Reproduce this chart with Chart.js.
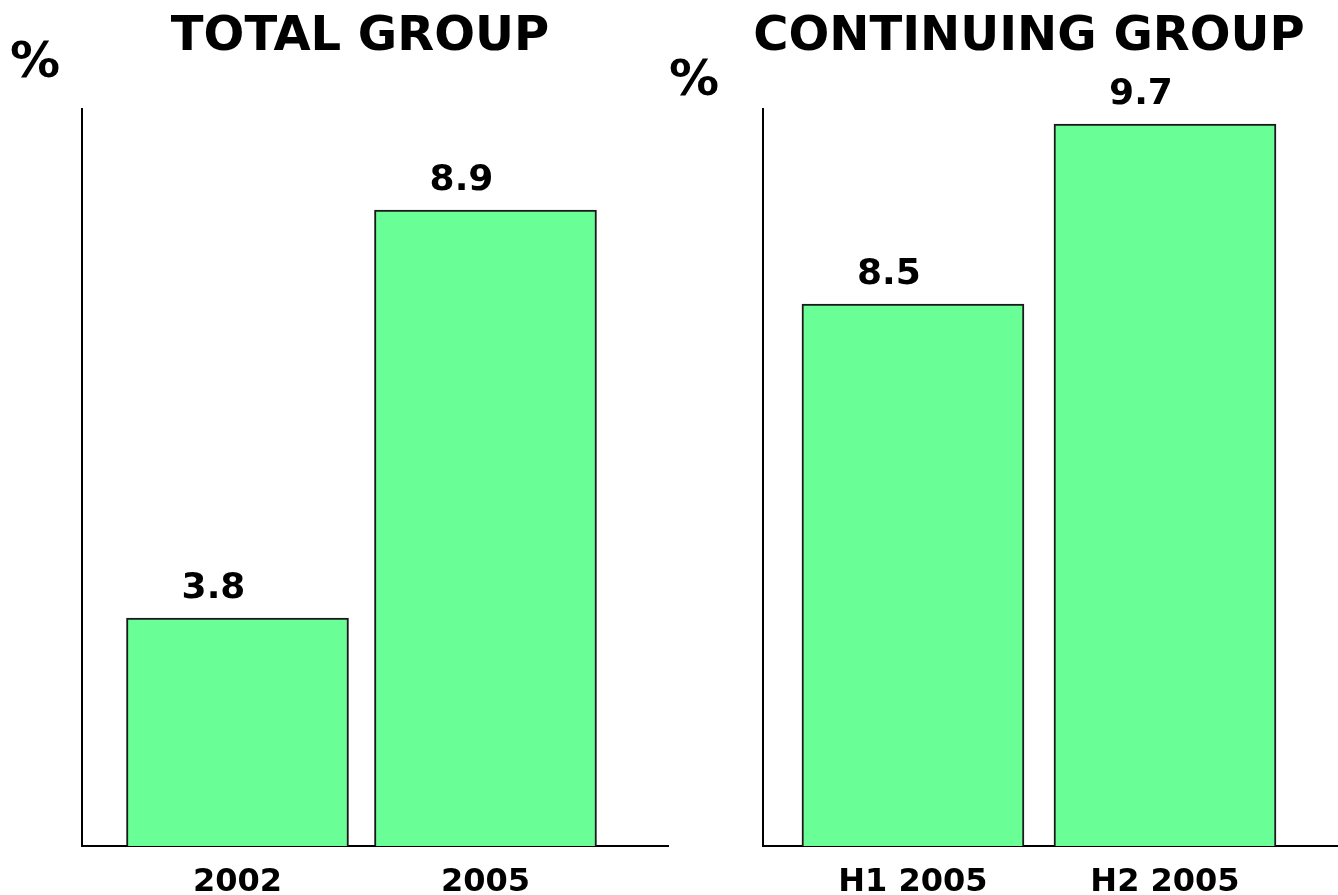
<!DOCTYPE html>
<html>
<head>
<meta charset="utf-8">
<script src="https://cdn.jsdelivr.net/npm/chart.js@4/dist/chart.umd.min.js"></script>
<style>
  body { margin: 0; background: #fff; }
  #wrap { position: relative; width: 1338px; height: 895px; }
  canvas { position: absolute; top: 0; }
  #totalChart { left: 0; }
  #contChart { left: 669px; }
</style>
</head>
<body>
<div id="wrap">
  <canvas id="totalChart" width="669" height="895"></canvas>
  <canvas id="contChart" width="669" height="895"></canvas>
</div>
<script>
const totalCategories = ["2002", "2005"];
const totalValues = [3.8, 8.9];
const contCategories = ["H1 2005", "H2 2005"];
const contValues = [8.5, 9.7];

const FONT = "'DejaVu Sans', Verdana, sans-serif";
const GREEN = "#69ff96";

// titles, "%" marker, value labels and category labels
const textPlugin = {
  id: "texts",
  afterDatasetsDraw(chart, args, opts) {
    const ctx = chart.ctx;
    const xs = chart.scales.x;
    const meta = chart.getDatasetMeta(0);
    ctx.save();
    ctx.fillStyle = "#000";

    ctx.font = "bold 48px " + FONT;
    ctx.textAlign = "center";
    ctx.textBaseline = "alphabetic";
    ctx.fillText(opts.title, 360, 50);

    ctx.font = "bold 50px " + FONT;
    ctx.textAlign = "left";
    ctx.fillText("%", opts.pctX, opts.pctY);

    ctx.textAlign = "center";
    ctx.font = "bold 36px " + FONT;
    meta.data.forEach((bar, i) => {
      ctx.fillText(opts.values[i].toFixed(1), bar.x - 24, bar.y - 20);
    });

    ctx.font = "bold 32px " + FONT;
    opts.categories.forEach((c, i) => {
      ctx.fillText(c, xs.getPixelForValue(i), 891);
    });
    ctx.restore();
  }
};

function makeChart(id, categories, values, title, x, y, pad, pct) {
  return new Chart(document.getElementById(id), {
    type: "bar",
    data: {
      datasets: [{
        data: categories.map((c, i) => ({ x: i, y: values[i] })),
        backgroundColor: GREEN,
        borderColor: "#1a1a1a",
        borderWidth: 2,
        borderSkipped: false,
        barThickness: 222
      }]
    },
    options: {
      responsive: false,
      animation: false,
      devicePixelRatio: 1,
      layout: { padding: pad },
      plugins: {
        legend: { display: false },
        tooltip: { enabled: false },
        texts: { title: title, categories: categories, values: values, pctX: pct[0], pctY: pct[1] }
      },
      scales: {
        x: {
          type: "linear",
          offset: false,
          min: x[0],
          max: x[1],
          grid: { display: false, drawTicks: false },
          ticks: { display: false },
          border: { display: true, color: "#000", width: 2 }
        },
        y: {
          min: y[0],
          max: y[1],
          grid: { display: false, drawTicks: false },
          ticks: { display: false },
          border: { display: true, color: "#000", width: 2 }
        }
      }
    },
    plugins: [textPlugin]
  });
}

makeChart("totalChart", totalCategories, totalValues, "TOTAL GROUP",
  [-0.627, 1.74], [0.95, 10.1625],
  { left: 82, top: 109, right: 0, bottom: 49 }, [10, 77]);

makeChart("contChart", contCategories, contValues, "CONTINUING GROUP",
  [-0.595, 1.6865], [4.8867, 9.8],
  { left: 94, top: 109, right: 0, bottom: 49 }, [0, 95]);
</script>
</body>
</html>
